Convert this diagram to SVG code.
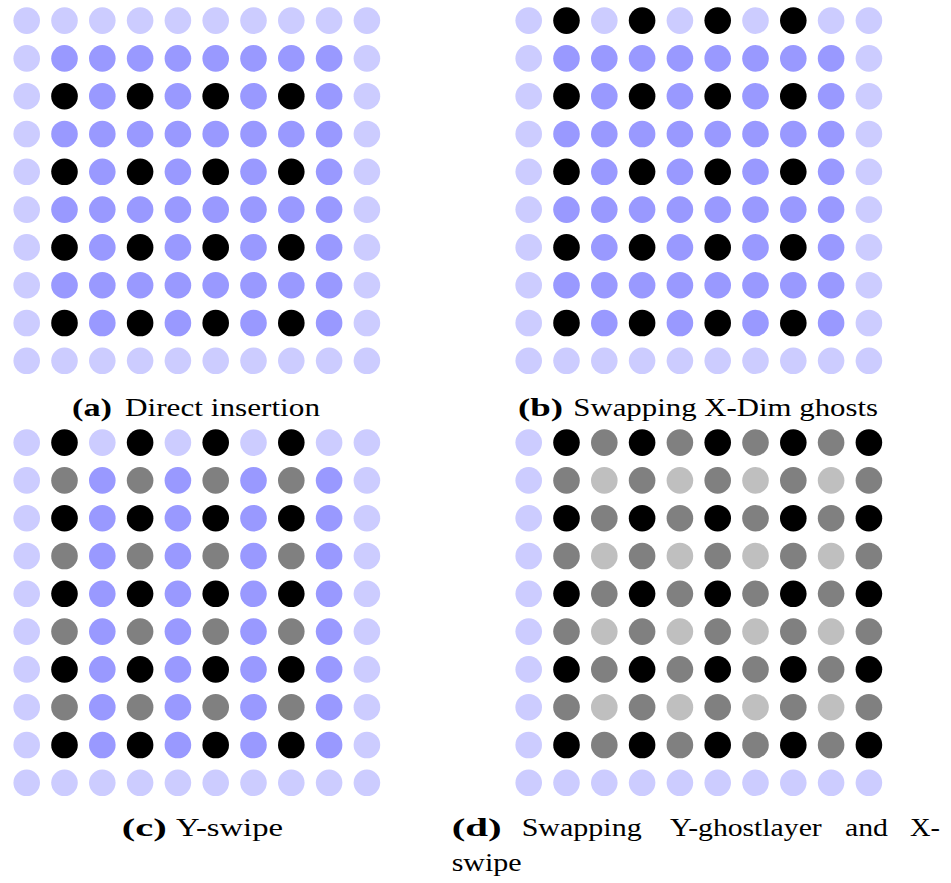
<svg xmlns="http://www.w3.org/2000/svg" xmlns:xlink="http://www.w3.org/1999/xlink" width="951" height="883" viewBox="0 0 951 883">
  <style>
    .l { fill: #ccccff; }
    .m { fill: #9999ff; }
    .k { fill: #000000; }
    .g { fill: #808080; }
    .s { fill: #bfbfbf; }
    .cap { font-family: "Liberation Serif", "Times New Roman", "DejaVu Serif", serif; font-size: 25px; fill: #000; }
    .lbl { font-weight: bold; }
  </style>
  <defs>
    <!-- cell pitch 37.8, dot radius 13.3; each row is a reusable pattern -->
    <g id="rowL">
      <circle class="l" cx="0" r="13.3"/><circle class="l" cx="37.8" r="13.3"/><circle class="l" cx="75.6" r="13.3"/><circle class="l" cx="113.4" r="13.3"/><circle class="l" cx="151.2" r="13.3"/><circle class="l" cx="189" r="13.3"/><circle class="l" cx="226.8" r="13.3"/><circle class="l" cx="264.6" r="13.3"/><circle class="l" cx="302.4" r="13.3"/><circle class="l" cx="340.2" r="13.3"/>
    </g>
    <g id="rowM">
      <circle class="l" cx="0" r="13.3"/><circle class="m" cx="37.8" r="13.3"/><circle class="m" cx="75.6" r="13.3"/><circle class="m" cx="113.4" r="13.3"/><circle class="m" cx="151.2" r="13.3"/><circle class="m" cx="189" r="13.3"/><circle class="m" cx="226.8" r="13.3"/><circle class="m" cx="264.6" r="13.3"/><circle class="m" cx="302.4" r="13.3"/><circle class="l" cx="340.2" r="13.3"/>
    </g>
    <g id="rowK">
      <circle class="l" cx="0" r="13.3"/><circle class="k" cx="37.8" r="13.3"/><circle class="m" cx="75.6" r="13.3"/><circle class="k" cx="113.4" r="13.3"/><circle class="m" cx="151.2" r="13.3"/><circle class="k" cx="189" r="13.3"/><circle class="m" cx="226.8" r="13.3"/><circle class="k" cx="264.6" r="13.3"/><circle class="m" cx="302.4" r="13.3"/><circle class="l" cx="340.2" r="13.3"/>
    </g>
    <g id="rowGhost">
      <circle class="l" cx="0" r="13.3"/><circle class="k" cx="37.8" r="13.3"/><circle class="l" cx="75.6" r="13.3"/><circle class="k" cx="113.4" r="13.3"/><circle class="l" cx="151.2" r="13.3"/><circle class="k" cx="189" r="13.3"/><circle class="l" cx="226.8" r="13.3"/><circle class="k" cx="264.6" r="13.3"/><circle class="l" cx="302.4" r="13.3"/><circle class="l" cx="340.2" r="13.3"/>
    </g>
    <g id="rowG">
      <circle class="l" cx="0" r="13.3"/><circle class="g" cx="37.8" r="13.3"/><circle class="m" cx="75.6" r="13.3"/><circle class="g" cx="113.4" r="13.3"/><circle class="m" cx="151.2" r="13.3"/><circle class="g" cx="189" r="13.3"/><circle class="m" cx="226.8" r="13.3"/><circle class="g" cx="264.6" r="13.3"/><circle class="m" cx="302.4" r="13.3"/><circle class="l" cx="340.2" r="13.3"/>
    </g>
    <g id="rowDK">
      <circle class="l" cx="0" r="13.3"/><circle class="k" cx="37.8" r="13.3"/><circle class="g" cx="75.6" r="13.3"/><circle class="k" cx="113.4" r="13.3"/><circle class="g" cx="151.2" r="13.3"/><circle class="k" cx="189" r="13.3"/><circle class="g" cx="226.8" r="13.3"/><circle class="k" cx="264.6" r="13.3"/><circle class="g" cx="302.4" r="13.3"/><circle class="k" cx="340.2" r="13.3"/>
    </g>
    <g id="rowDG">
      <circle class="l" cx="0" r="13.3"/><circle class="g" cx="37.8" r="13.3"/><circle class="s" cx="75.6" r="13.3"/><circle class="g" cx="113.4" r="13.3"/><circle class="s" cx="151.2" r="13.3"/><circle class="g" cx="189" r="13.3"/><circle class="s" cx="226.8" r="13.3"/><circle class="g" cx="264.6" r="13.3"/><circle class="s" cx="302.4" r="13.3"/><circle class="g" cx="340.2" r="13.3"/>
    </g>
  </defs>

  <!-- (a) direct insertion -->
  <g id="grid-a" transform="translate(26.7,20.6)">
    <use xlink:href="#rowL" y="0"/>
    <use xlink:href="#rowM" y="37.8"/>
    <use xlink:href="#rowK" y="75.6"/>
    <use xlink:href="#rowM" y="113.4"/>
    <use xlink:href="#rowK" y="151.2"/>
    <use xlink:href="#rowM" y="189"/>
    <use xlink:href="#rowK" y="226.8"/>
    <use xlink:href="#rowM" y="264.6"/>
    <use xlink:href="#rowK" y="302.4"/>
    <use xlink:href="#rowL" y="340.2"/>
  </g>

  <!-- (b) X-dim ghosts swapped -->
  <g id="grid-b" transform="translate(528.7,20.6)">
    <use xlink:href="#rowGhost" y="0"/>
    <use xlink:href="#rowM" y="37.8"/>
    <use xlink:href="#rowK" y="75.6"/>
    <use xlink:href="#rowM" y="113.4"/>
    <use xlink:href="#rowK" y="151.2"/>
    <use xlink:href="#rowM" y="189"/>
    <use xlink:href="#rowK" y="226.8"/>
    <use xlink:href="#rowM" y="264.6"/>
    <use xlink:href="#rowK" y="302.4"/>
    <use xlink:href="#rowL" y="340.2"/>
  </g>

  <!-- (c) Y-swipe -->
  <g id="grid-c" transform="translate(26.7,442.6)">
    <use xlink:href="#rowGhost" y="0"/>
    <use xlink:href="#rowG" y="37.8"/>
    <use xlink:href="#rowK" y="75.6"/>
    <use xlink:href="#rowG" y="113.4"/>
    <use xlink:href="#rowK" y="151.2"/>
    <use xlink:href="#rowG" y="189"/>
    <use xlink:href="#rowK" y="226.8"/>
    <use xlink:href="#rowG" y="264.6"/>
    <use xlink:href="#rowK" y="302.4"/>
    <use xlink:href="#rowL" y="340.2"/>
  </g>

  <!-- (d) Y-ghostlayer swap and X-swipe -->
  <g id="grid-d" transform="translate(528.7,442.6)">
    <use xlink:href="#rowDK" y="0"/>
    <use xlink:href="#rowDG" y="37.8"/>
    <use xlink:href="#rowDK" y="75.6"/>
    <use xlink:href="#rowDG" y="113.4"/>
    <use xlink:href="#rowDK" y="151.2"/>
    <use xlink:href="#rowDG" y="189"/>
    <use xlink:href="#rowDK" y="226.8"/>
    <use xlink:href="#rowDG" y="264.6"/>
    <use xlink:href="#rowDK" y="302.4"/>
    <use xlink:href="#rowL" y="340.2"/>
  </g>

  <!-- captions -->
  <g id="captions" class="cap">
    <text x="72" y="416" class="lbl" textLength="40" lengthAdjust="spacingAndGlyphs">(a)</text>
    <text x="125" y="416" textLength="195" lengthAdjust="spacingAndGlyphs">Direct insertion</text>

    <text x="518" y="416" class="lbl" textLength="45" lengthAdjust="spacingAndGlyphs">(b)</text>
    <text x="573.3" y="416" textLength="304.7" lengthAdjust="spacingAndGlyphs">Swapping X-Dim ghosts</text>

    <text x="121.7" y="836" class="lbl" textLength="45" lengthAdjust="spacingAndGlyphs">(c)</text>
    <text x="176" y="836" textLength="107" lengthAdjust="spacingAndGlyphs">Y-swipe</text>

    <text x="451.7" y="836" class="lbl" textLength="50" lengthAdjust="spacingAndGlyphs">(d)</text>
    <text x="521.7" y="836" textLength="120" lengthAdjust="spacingAndGlyphs">Swapping</text>
    <text x="670" y="836" textLength="151.7" lengthAdjust="spacingAndGlyphs">Y-ghostlayer</text>
    <text x="845" y="836" textLength="43" lengthAdjust="spacingAndGlyphs">and</text>
    <text x="910" y="836" textLength="30" lengthAdjust="spacingAndGlyphs">X-</text>
    <text x="451.7" y="871" textLength="70" lengthAdjust="spacingAndGlyphs">swipe</text>
  </g>
</svg>
